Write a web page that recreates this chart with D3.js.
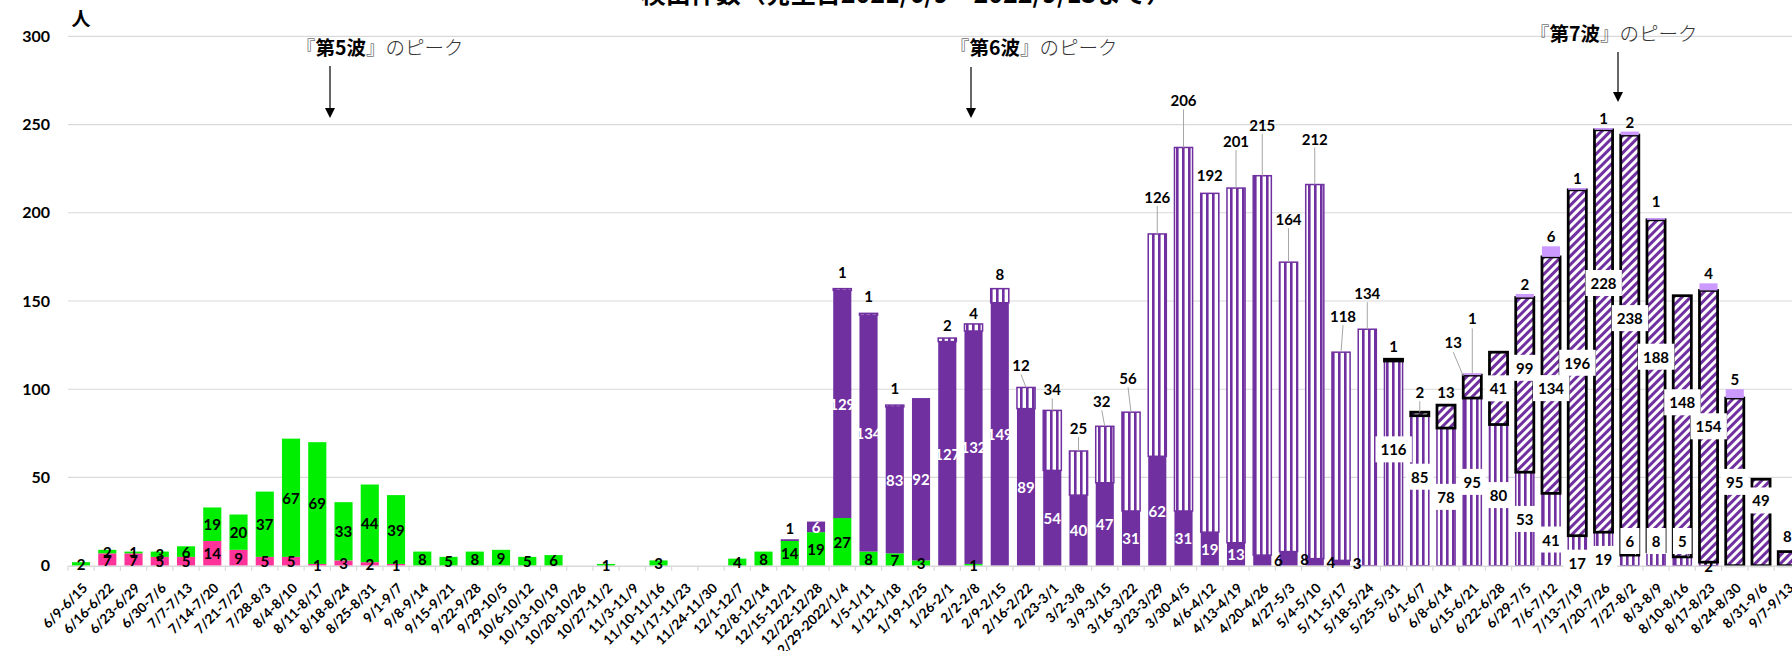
<!DOCTYPE html>
<html><head><meta charset="utf-8">
<script src="https://cdn.jsdelivr.net/npm/d3@7"></script>
<style>
html,body{margin:0;padding:0;background:#fff;overflow:hidden}
svg{display:block}
</style></head><body>
<svg id="chart" width="1792" height="651"></svg>
<script>
// ---------------- DATA ----------------
const titleText = "検出件数（発生日2021/6/9～2022/9/13まで）";
const unitLabel = "人";
const categories = ["6/9-6/15","6/16-6/22","6/23-6/29","6/30-7/6","7/7-7/13","7/14-7/20","7/21-7/27","7/28-8/3","8/4-8/10","8/11-8/17",
"8/18-8/24","8/25-8/31","9/1-9/7","9/8-9/14","9/15-9/21","9/22-9/28","9/29-10/5","10/6-10/12","10/13-10/19","10/20-10/26",
"10/27-11/2","11/3-11/9","11/10-11/16","11/17-11/23","11/24-11/30","12/1-12/7","12/8-12/14","12/15-12/21","12/22-12/28","12/29-2022/1/4",
"1/5-1/11","1/12-1/18","1/19-1/25","1/26-2/1","2/2-2/8","2/9-2/15","2/16-2/22","2/23-3/1","3/2-3/8","3/9-3/15",
"3/16-3/22","3/23-3/29","3/30-4/5","4/6-4/12","4/13-4/19","4/20-4/26","4/27-5/3","5/4-5/10","5/11-5/17","5/18-5/24",
"5/25-5/31","6/1-6/7","6/8-6/14","6/15-6/21","6/22-6/28","6/29-7/5","7/6-7/12","7/13-7/19","7/20-7/26","7/27-8/2",
"8/3-8/9","8/10-8/16","8/17-8/23","8/24-8/30","8/31-9/6","9/7-9/13"];
// pink
const alpha = [0,7,7,5,5,14,9,5,5,1, 3,2,1,0,0,0,0,0,0,0, 0,0,0,0,0,0,0,0,0,0, 0,0,0,0,0,0,0,0,0,0, 0,0,0,0,0,0,0,0,0,0, 0,0,0,0,0,0,0,0,0,0, 0,0,0,0,0,0];
// green
const delta = [2,2,1,3,6,19,20,37,67,69, 33,44,39,8,5,8,9,5,6,0, 1,0,3,0,0,4,8,14,19,27, 8,7,3,0,1,0,0,0,0,0, 0,0,0,0,0,0,0,0,0,0, 0,0,0,0,0,0,0,0,0,0, 0,0,0,0,0,0];
// solid purple
const ba1 = [0,0,0,0,0,0,0,0,0,0, 0,0,0,0,0,0,0,0,0,0, 0,0,0,0,0,0,0,1,6,129, 134,83,92,127,132,149,89,54,40,47, 31,62,31,19,13,6,8,4,3,0, 0,0,0,0,0,0,0,0,0,0, 0,0,0,0,0,0];
// vertical stripes
const ba2 = [0,0,0,0,0,0,0,0,0,0, 0,0,0,0,0,0,0,0,0,0, 0,0,0,0,0,0,0,0,0,1, 1,1,0,2,4,8,12,34,25,32, 56,126,206,192,201,215,164,212,118,134, 116,85,78,95,80,53,41,17,19,6, 8,5,2,0,0,0];
// diagonal hatch, black outline
const ba5 = [0,0,0,0,0,0,0,0,0,0, 0,0,0,0,0,0,0,0,0,0, 0,0,0,0,0,0,0,0,0,0, 0,0,0,0,0,0,0,0,0,0, 0,0,0,0,0,0,0,0,0,0, 1,2,13,13,41,99,134,196,228,238, 188,148,154,95,49,8];
// light purple
const ba275 = [0,0,0,0,0,0,0,0,0,0, 0,0,0,0,0,0,0,0,0,0, 0,0,0,0,0,0,0,0,0,0, 0,0,0,0,0,0,0,0,0,0, 0,0,0,0,0,0,0,0,0,0, 0,0,0,1,0,2,6,1,1,2, 1,0,4,5,0,0];
const yTicks = [0,50,100,150,200,250,300];
const waves = ["第5波","第6波","第7波"];
</script>
<script>
const svg = d3.select('#chart');
const LATO = 'Lato, "Liberation Sans", sans-serif';
const JP = '"Noto Sans CJK JP", sans-serif';
const y = d3.scaleLinear().domain([0,300]).range([565.7,36.3]);
const x = d3.scaleBand().domain(categories).range([67.9,1800.4]).paddingInner(0.31).paddingOuter(0.155);
const cx = i => x(categories[i]) + x.bandwidth()/2;

const defs = svg.append('defs');
const vs = defs.append('pattern').attr('id','vstripe').attr('patternUnits','userSpaceOnUse').attr('width',6).attr('height',10);
vs.append('rect').attr('width',6).attr('height',10).attr('fill','#fff');
vs.append('rect').attr('width',2.6).attr('height',10).attr('fill','#7030A0');
const dh = defs.append('pattern').attr('id','dhatch').attr('patternUnits','userSpaceOnUse').attr('width',6).attr('height',6).attr('patternTransform','rotate(45)');
dh.append('rect').attr('width',6).attr('height',6).attr('fill','#fff');
dh.append('rect').attr('width',3).attr('height',6).attr('fill','#7030A0');

// title (cut at top)
svg.append('text').attr('x',906).attr('y',3).attr('text-anchor','middle')
  .attr('font-family',JP).attr('font-weight',700).attr('font-size',25).text(titleText);

// gridlines
svg.append('g').selectAll('line').data(yTicks.filter(d=>d>0)).join('line')
  .attr('x1',68).attr('x2',1792).attr('y1',d=>y(d)).attr('y2',d=>y(d))
  .attr('stroke','#D9D9D9').attr('stroke-width',1.2);

// y axis
const yAxis = svg.append('g').attr('transform','translate(68,0)')
  .call(d3.axisLeft(y).tickValues(yTicks).tickSize(0).tickPadding(18));
yAxis.select('.domain').remove();
yAxis.selectAll('text').attr('font-family',LATO).attr('font-weight',700).attr('font-size',16).attr('fill','#000');

svg.append('text').attr('x',81).attr('y',17).attr('text-anchor','middle').attr('dominant-baseline','central')
  .attr('font-family',JP).attr('font-weight',700).attr('font-size',19).text(unitLabel);

// stacked bars
const keys = ['alpha','delta','ba1','ba2','ba5','ba275'];
const src = {alpha, delta, ba1, ba2, ba5, ba275};
const rows = categories.map((c,i)=>{ const r={cat:c}; keys.forEach(k=>r[k]=src[k][i]); return r; });
const stacked = d3.stack().keys(keys)(rows);
const style = {
  alpha:{fill:'#FF3399'}, delta:{fill:'#00EE00'}, ba1:{fill:'#7030A0'},
  ba2:{fill:'url(#vstripe)', stroke:'#7030A0', sw:1.5},
  ba5:{fill:'url(#dhatch)', stroke:'#000', sw:2.75},
  ba275:{fill:'#CC99FF'}
};
const barG = svg.append('g');
stacked.forEach(layer=>{
  const st = style[layer.key];
  barG.append('g').selectAll('rect').data(layer.filter(d=>d[1]-d[0]>0)).join('rect')
    .attr('x',d=>x(d.data.cat)).attr('width',x.bandwidth())
    .attr('y',d=>y(d[1])).attr('height',d=>y(d[0])-y(d[1]))
    .attr('fill',st.fill).attr('stroke',st.stroke||'none').attr('stroke-width',st.sw||0);
});

// x axis
const xAxis = svg.append('g').attr('transform',`translate(0,${y(0)})`)
  .call(d3.axisBottom(x).tickSize(0).tickPadding(0));
xAxis.select('.domain').attr('stroke','#D9D9D9').attr('stroke-width',1.5);
xAxis.selectAll('text').attr('font-family',LATO).attr('font-weight',700).attr('font-size',13.5).attr('fill','#000')
  .attr('text-anchor','end').attr('y',0).attr('dy','0.35em').attr('transform','translate(4,20) rotate(-45)');
svg.append('g').selectAll('line').data(d3.range(categories.length+1)).join('line')
  .attr('x1',i=>67.9+i*x.step()).attr('x2',i=>67.9+i*x.step())
  .attr('y1',y(0)).attr('y2',y(0)+5).attr('stroke','#D9D9D9').attr('stroke-width',1.2);

// ---------- labels ----------
const lift2 = {29:17,30:17,31:17,33:13,34:11,35:15,36:22,37:21,38:23,39:25,40:34,41:37,42:47,43:18,44:47,45:51,46:43,47:46,48:36,49:36};
const dx2 = {36:-5,39:-3,40:-3,48:2};
const dy2 = {50:-14,51:-14,56:10,57:12,58:10};
const dy5 = {55:-17,56:13,58:-48,59:-27,60:-29,61:-24,64:-22};
const liftLP = {53:55,60:17};
const labels = [];
stacked.forEach(layer=>{
  const key = layer.key;
  layer.forEach((d,i)=>{
    const v = d[1]-d[0];
    if (v<=0) return;
    const c = cx(i), top = y(d[1]), mid = y((d[0]+d[1])/2);
    const L = {x:c, y:mid, t:String(v), color:'#000', box:false, leader:null};
    if (key==='ba1') {
      if (v<=1) L.y = top-11;
      else if (i>=45) L.x = c+16;
      else L.color = '#fff';
    } else if (key==='ba2') {
      if (i<=35) L.y = top-(lift2[i]||15);
      else if (i<=49) { const lf=lift2[i]; L.x=c+(dx2[i]||0); L.y=top-lf; if (lf>=20) L.leader=[L.x,L.y+9,c,top]; }
      else if (v>=10) { L.box=true; L.y=mid+(dy2[i]||0); }
      else if (i<62) { L.box=true; L.y=541; L.leader=[c+3,549,c+6,top]; }
      else L.y = y(0);
    } else if (key==='ba5') {
      if (i===50||i===52) L.y=top-13;
      else if (i===51) { L.y=top-20; L.leader=[c,L.y+9,c,top]; }
      else if (i===53) { L.x=c-19; L.y=top-33; L.leader=[L.x,L.y+10,c-9,top+1]; }
      else if (i===65) L.y=top-16;
      else { L.box=true; L.y=mid+(dy5[i]||0); }
    } else if (key==='ba275') {
      const lf = liftLP[i]||10; L.y=top-lf; if (lf>30) L.leader=[c,L.y+10,c,top];
    }
    labels.push(L);
  });
});
const lg = svg.append('g');
labels.filter(L=>L.leader).forEach(L=>{
  lg.append('line').attr('x1',L.leader[0]).attr('y1',L.leader[1]).attr('x2',L.leader[2]).attr('y2',L.leader[3])
    .attr('stroke','#A6A6A6').attr('stroke-width',1);
});
labels.forEach(L=>{
  const g = lg.append('g');
  const t = g.append('text').attr('x',L.x).attr('y',L.y).attr('text-anchor','middle').attr('dominant-baseline','central')
    .attr('font-family',LATO).attr('font-weight',700).attr('font-size',15).attr('fill',L.color).text(L.t);
  if (L.box) {
    const b = t.node().getBBox();
    g.insert('rect','text').attr('x',b.x-5).attr('y',b.y-4).attr('width',b.width+10).attr('height',b.height+8).attr('fill','#fff');
  }
});

// ---------- wave annotations ----------
const annots = [
  {w:waves[0], tx:296, ty:46, ax:330, y1:66, y2:118},
  {w:waves[1], tx:950, ty:46, ax:971, y1:67, y2:118},
  {w:waves[2], tx:1530, ty:32, ax:1618, y1:52, y2:102}
];
annots.forEach(a=>{
  const t = svg.append('text').attr('x',a.tx).attr('y',a.ty).attr('dominant-baseline','central')
    .attr('font-family',JP).attr('font-size',19.5);
  t.append('tspan').attr('fill','#333').attr('font-weight',300).text('『');
  t.append('tspan').attr('fill','#000').attr('font-weight',700).text(a.w);
  t.append('tspan').attr('fill','#333').attr('font-weight',300).text('』のピーク');
  svg.append('line').attr('x1',a.ax).attr('x2',a.ax).attr('y1',a.y1).attr('y2',a.y2-8).attr('stroke','#000').attr('stroke-width',1.2);
  svg.append('path').attr('d',`M${a.ax-5},${a.y2-10}L${a.ax+5},${a.y2-10}L${a.ax},${a.y2}Z`).attr('fill','#000');
});
</script>
</body></html>
